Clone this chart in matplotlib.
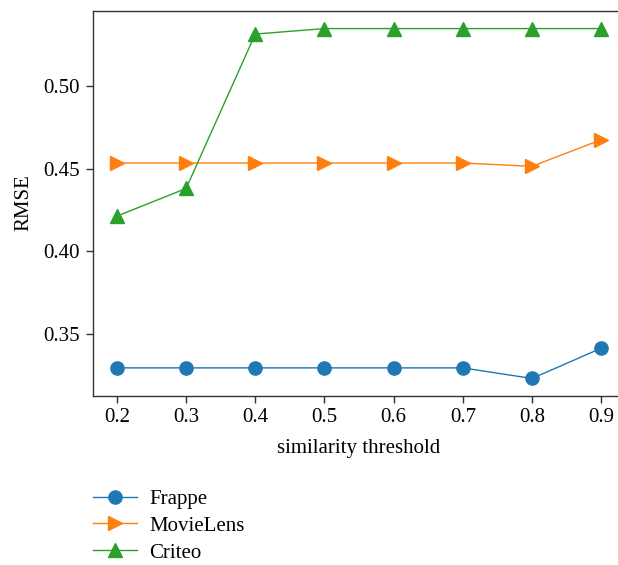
import matplotlib.pyplot as plt

thresholds = [0.2, 0.3, 0.4, 0.5, 0.6, 0.7, 0.8, 0.9]
frappe = [0.3295, 0.3295, 0.3295, 0.3295, 0.3295, 0.3295, 0.3231, 0.3414]
movielens = [0.4534, 0.4534, 0.4534, 0.4534, 0.4534, 0.4534, 0.4514, 0.4675]
criteo = [0.4213, 0.4380, 0.5314, 0.5347, 0.5347, 0.5347, 0.5347, 0.5347]

plt.rcParams["font.family"] = ["Liberation Serif", "DejaVu Serif"]
plt.rcParams["font.size"] = 15

fig = plt.figure(figsize=(6.18, 5.65), dpi=100)
ax = fig.add_axes([0.150, 0.300, 0.862, 0.681])

ax.plot(thresholds, frappe, marker="o", color="#1f77b4", lw=1.0, ms=9.5, label="Frappe")
ax.plot(thresholds, movielens, marker=">", color="#ff7f0e", lw=1.0, ms=9.5, label="MovieLens")
ax.plot(thresholds, criteo, marker="^", color="#2ca02c", lw=1.0, ms=9.5, label="Criteo")

ax.set_xlim(0.165, 0.935)
ax.set_ylim(0.3128, 0.5455)
ax.set_xticks(thresholds)
ax.set_yticks([0.35, 0.40, 0.45, 0.50])
ax.set_xticklabels([f"{t:.1f}" for t in thresholds])
ax.set_yticklabels(["0.35", "0.40", "0.45", "0.50"])
ax.set_xlabel("similarity threshold", labelpad=9)
ax.set_ylabel("RMSE", labelpad=7)

for s in ax.spines.values():
    s.set_color("#333333")
    s.set_linewidth(1.0)
ax.tick_params(direction="out", length=5, width=1.0, color="#333333", pad=4)

ax.legend(loc="upper left", bbox_to_anchor=(-0.035, -0.195), frameon=False,
          handlelength=2.1, handletextpad=0.6, labelspacing=0.35, fontsize=15)

fig.savefig("out.png", dpi=100)
